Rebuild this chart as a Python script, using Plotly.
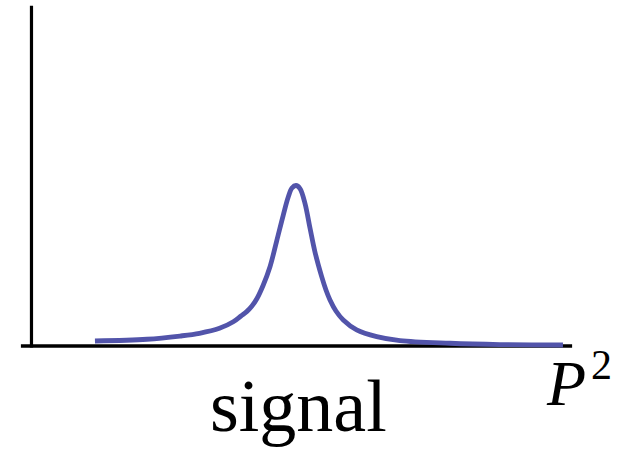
import plotly.graph_objects as go

# Resonance line shape: invariant mass squared P^2 (arbitrary units) vs. relative rate
p2 = [1.200, 2.183, 2.807, 3.176, 3.554, 3.815, 3.960, 4.068, 4.168, 4.263,
      4.382, 4.509, 4.635, 4.760, 4.854, 4.924, 5.000, 5.076, 5.170, 5.265,
      5.359, 5.486, 5.567, 5.643, 5.756, 5.894, 6.147, 6.526, 6.966, 7.911,
      8.856, 10.047]
rate = [0.031, 0.042, 0.062, 0.079, 0.110, 0.151, 0.187, 0.214, 0.249, 0.296,
        0.380, 0.494, 0.654, 0.816, 0.928, 0.984, 1.000, 0.981, 0.889, 0.735,
        0.586, 0.432, 0.349, 0.287, 0.218, 0.162, 0.100, 0.058, 0.033, 0.017,
        0.009, 0.006]

# Axis extents in data units
x_axis_span = [-0.2, 10.22]
y_axis_span = [0.0, 2.12]

curve_color = "#5254AA"
serif = "Liberation Serif"

fig = go.Figure()
fig.add_trace(go.Scatter(
    x=p2, y=rate, mode="lines",
    line=dict(color=curve_color, width=4.8, shape="spline", smoothing=1.0),
    hoverinfo="skip", showlegend=False,
))

# Hand-drawn style axes
fig.add_shape(type="line", x0=x_axis_span[0], x1=x_axis_span[1], y0=0, y1=0,
              line=dict(color="black", width=3.5), layer="below")
fig.add_shape(type="line", x0=0, x1=0, y0=-0.01, y1=y_axis_span[1],
              line=dict(color="black", width=3.2), layer="below")

# Labels
fig.add_annotation(x=5.04, y=-0.374, xref="x", yref="y", text="signal",
                   showarrow=False, xanchor="center", yanchor="middle",
                   font=dict(family=serif, size=74, color="black"))
fig.add_annotation(x=9.69, y=-0.235, xref="x", yref="y", text="<i>P</i>",
                   showarrow=False, xanchor="left", yanchor="middle",
                   font=dict(family=serif, size=64, color="black"))
fig.add_annotation(x=10.54, y=-0.117, xref="x", yref="y", text="2",
                   showarrow=False, xanchor="left", yanchor="middle",
                   font=dict(family=serif, size=42, color="black"))

fig.update_layout(
    width=634, height=449,
    margin=dict(l=0, r=0, t=0, b=0),
    paper_bgcolor="white", plot_bgcolor="white",
    xaxis=dict(range=[-0.595, 11.39], visible=False, fixedrange=True),
    yaxis=dict(range=[-0.642, 2.156], visible=False, fixedrange=True),
)

fig.write_html("out.html")
